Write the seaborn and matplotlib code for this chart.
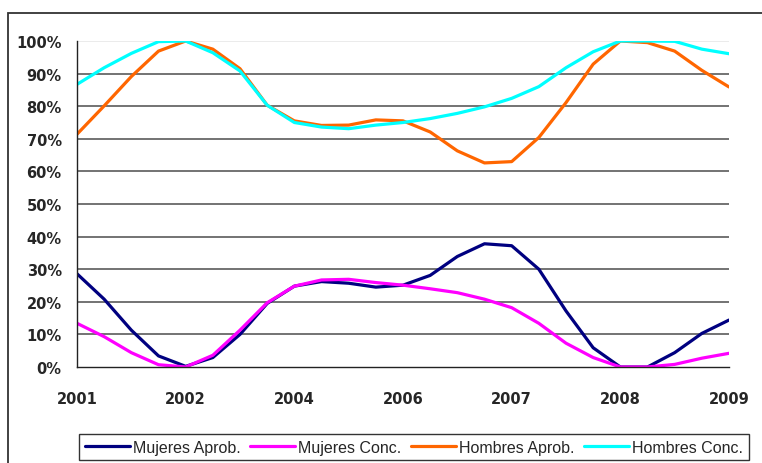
import numpy as np
import pandas as pd
import matplotlib.pyplot as plt
import seaborn as sns
from matplotlib.patches import Rectangle

# x labels shown on the axis (equally spaced categories)
years = ["2001", "2002", "2004", "2006", "2007", "2008", "2009"]
steps_per_label = 4  # values read every quarter interval

# values in %
mujeres_aprob = [28.6, 20.8, 11.3, 3.4, 0.2, 2.9, 10.0, 19.5, 24.8, 26.2, 25.7, 24.5, 25.1,
                 28.1, 33.9, 37.8, 37.2, 30.0, 17.2, 5.9, 0.0, 0.0, 4.4, 10.3, 14.4]
mujeres_conc = [13.4, 9.3, 4.4, 0.7, 0.0, 3.6, 11.3, 19.7, 24.8, 26.7, 26.9, 25.9, 25.1,
                24.0, 22.8, 20.8, 18.2, 13.4, 7.3, 2.9, 0.0, 0.0, 0.8, 2.7, 4.2]
hombres_aprob = [71.4, 80.1, 89.1, 96.9, 100.0, 97.5, 91.5, 80.3, 75.5, 74.1, 74.2, 75.8, 75.5,
                 72.1, 66.3, 62.6, 63.0, 70.4, 81.1, 92.9, 100.0, 99.5, 96.9, 91.0, 85.9]
hombres_conc = [86.7, 91.8, 96.2, 99.8, 100.0, 96.4, 90.8, 80.3, 75.0, 73.6, 73.1, 74.2, 75.0,
                76.2, 77.8, 79.8, 82.4, 86.0, 91.8, 96.7, 100.0, 100.0, 99.9, 97.5, 96.1]

series = {
    "Mujeres Aprob.": mujeres_aprob,
    "Mujeres Conc.": mujeres_conc,
    "Hombres Aprob.": hombres_aprob,
    "Hombres Conc.": hombres_conc,
}
colors = {
    "Mujeres Aprob.": "#000080",
    "Mujeres Conc.": "#FF00FF",
    "Hombres Aprob.": "#FF6600",
    "Hombres Conc.": "#00FFFF",
}

pos = np.arange(len(mujeres_aprob)) / steps_per_label
df = pd.concat(
    [pd.DataFrame({"pos": pos, "valor": v, "serie": k}) for k, v in series.items()],
    ignore_index=True,
)

sns.set_style("white")
plt.rcParams["font.family"] = ["DejaVu Sans"]

fig = plt.figure(figsize=(7.62, 4.64), dpi=100)
ax = fig.add_axes([77 / 762, 1 - 368 / 464, (729 - 77) / 762, (368 - 42) / 464])

# outer chart border
fig.patches.append(Rectangle((8 / 762, -0.05), 1.1, 1 - 14 / 464 + 0.05,
                             transform=fig.transFigure, fill=False,
                             edgecolor="#333333", linewidth=1.3))

for v in range(10, 100, 10):
    ax.axhline(v, color="#4d4d4d", linewidth=1.1, zorder=0)
ax.axhline(100, color="#e6e6e6", linewidth=1.1, zorder=0)

sns.lineplot(data=df, x="pos", y="valor", hue="serie", palette=colors,
             linewidth=2.3, ax=ax, sort=False)

ax.set_xlim(0, len(years) - 1)
ax.set_ylim(0, 100)
ax.set_xticks(range(len(years)))
ax.set_xticklabels(years)
ax.set_yticks(range(0, 101, 10))
ax.set_yticklabels([f"{v}%" for v in range(0, 101, 10)])
for lab in ax.get_xticklabels() + ax.get_yticklabels():
    lab.set_fontweight("bold")
    lab.set_fontsize(10.5)
ax.tick_params(axis="x", direction="out", length=4, width=1, color="#222222", pad=13)
ax.tick_params(axis="y", direction="out", length=5, width=1, color="#222222", pad=6)
ax.set_xlabel("")
ax.set_ylabel("")

sns.despine(ax=ax, top=True, right=True)
ax.spines["left"].set_color("#222222")
ax.spines["bottom"].set_color("#222222")
ax.spines["left"].set_linewidth(1)
ax.spines["bottom"].set_linewidth(1)

handles, labels = ax.get_legend_handles_labels()
ax.get_legend().remove()
leg = fig.legend(handles, labels, loc="upper center", ncol=4,
                 bbox_to_anchor=(414 / 762, 1 - 435 / 464),
                 prop={"family": ["Liberation Sans"], "size": 11.5},
                 frameon=True, fancybox=False, edgecolor="black",
                 handlelength=2.8, handletextpad=0.2, columnspacing=0.6,
                 borderpad=0.35, borderaxespad=0)
leg.get_frame().set_linewidth(1)

fig.savefig("out.png", dpi=100)
